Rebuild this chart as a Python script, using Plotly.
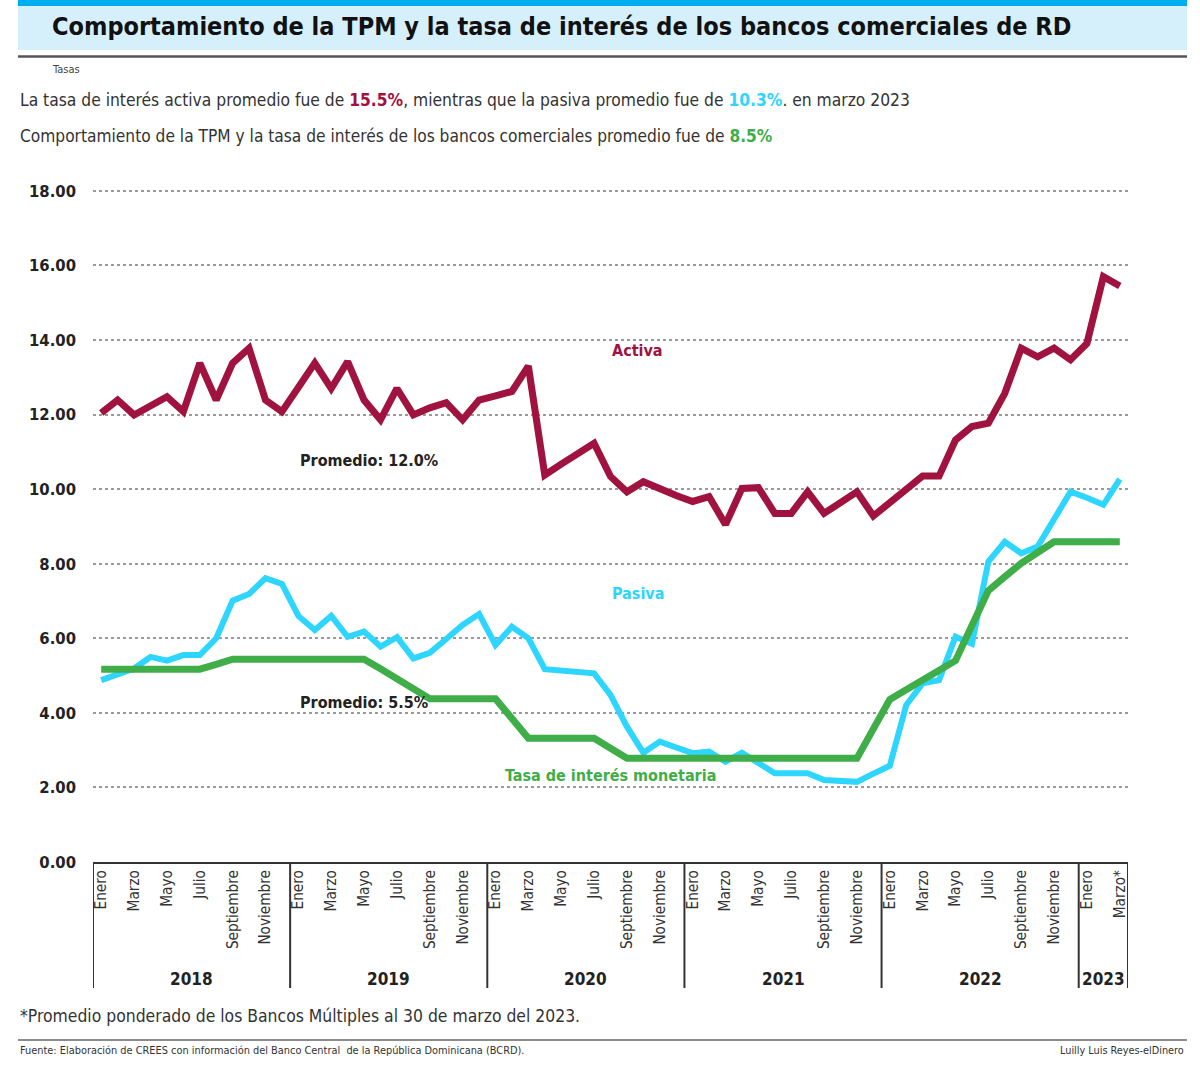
import plotly.graph_objects as go

# ---------------- data ----------------
month_names = ["Enero", "Febrero", "Marzo", "Abril", "Mayo", "Junio", "Julio",
               "Agosto", "Septiembre", "Octubre", "Noviembre", "Diciembre"]
years = ["2018", "2019", "2020", "2021", "2022", "2023"]
months_per_year = [12, 12, 12, 12, 12, 3]

activa = [12.04, 12.39, 11.99, 12.25, 12.48, 12.08, 13.38, 12.39, 13.38, 13.78, 12.39, 12.08,
          12.70, 13.38, 12.70, 13.42, 12.39, 11.86, 12.70, 11.99, 12.18, 12.32, 11.86, 12.39,
          12.50, 12.62, 13.30, 10.38, 10.67, 10.95, 11.23, 10.34, 9.93, 10.20, 9.99, 9.83,
          9.67, 9.80, 9.05, 10.02, 10.04, 9.35, 9.35, 9.93, 9.35, 9.65, 9.93, 9.28,
          9.65, 10.00, 10.35, 10.35, 11.32, 11.68, 11.77, 12.57, 13.78, 13.55, 13.78, 13.47,
          13.91, 15.70, 15.45]

pasiva = [4.88, 5.03, 5.19, 5.50, 5.40, 5.55, 5.55, 6.00, 7.01, 7.19, 7.61, 7.46,
          6.60, 6.22, 6.60, 6.04, 6.18, 5.78, 6.03, 5.46, 5.61, 5.98, 6.36, 6.65,
          5.82, 6.31, 6.00, 5.17, 5.13, 5.06, 5.06, 4.48, 3.63, 2.93, 3.23, 3.07,
          2.92, 2.96, 2.69, 2.93, 2.65, 2.38, 2.38, 2.38, 2.20, 2.18, 2.15, 2.37,
          2.58, 4.21, 4.79, 4.88, 6.04, 5.85, 8.06, 8.59, 8.28, 8.46, 9.17, 9.93,
          9.77, 9.58, 10.27]

tpm = [5.17, 5.17, 5.17, 5.17, 5.17, 5.17, 5.17, 5.30, 5.44, 5.44, 5.44, 5.44,
       5.44, 5.44, 5.44, 5.44, 5.44, 5.18, 4.91, 4.65, 4.38, 4.38, 4.38, 4.38,
       4.38, 3.85, 3.32, 3.32, 3.32, 3.32, 3.32, 3.05, 2.78, 2.78, 2.78, 2.78,
       2.78, 2.78, 2.78, 2.78, 2.78, 2.78, 2.78, 2.78, 2.78, 2.78, 2.78, 3.57,
       4.36, 4.62, 4.88, 5.14, 5.40, 6.34, 7.28, 7.65, 8.01, 8.30, 8.59, 8.59,
       8.59, 8.59, 8.59]

y_ticks = [0, 2, 4, 6, 8, 10, 12, 14, 16, 18]

# month labels (every other month)
labels = []
for yi, n in enumerate(months_per_year):
    for m in range(n):
        labels.append(month_names[m])
x_idx = list(range(len(labels)))
tick_vals = [i for i in x_idx if i % 2 == 0]
tick_text = [labels[i] for i in tick_vals]
tick_text[-1] = "Marzo*"

# ---------------- style ----------------
C_ACT = "#A0123F"
C_PAS = "#2ED6FF"
C_TPM = "#3FAE48"
FONT = "Liberation Sans Narrow, DejaVu Sans Condensed, Arial Narrow, sans-serif"

W, H = 1200, 1071
L, R, T, B = 93, 72, 189, 209
PW, PH = W - L - R, H - T - B


def px(p):
    return (p - L) / PW


def py(p):
    return (H - B - p) / PH


fig = go.Figure()
fig.add_trace(go.Scatter(x=x_idx, y=pasiva, mode="lines", name="Pasiva",
                         line=dict(color=C_PAS, width=6), hoverinfo="skip"))
fig.add_trace(go.Scatter(x=x_idx, y=tpm, mode="lines", name="Tasa de interés monetaria",
                         line=dict(color=C_TPM, width=7), hoverinfo="skip"))
fig.add_trace(go.Scatter(x=x_idx, y=activa, mode="lines", name="Activa",
                         line=dict(color=C_ACT, width=7), hoverinfo="skip"))

shapes = []
# top bars
shapes.append(dict(type="rect", xref="paper", yref="paper", x0=px(18), x1=px(1187),
                   y0=py(6), y1=py(0), fillcolor="#00AEEF", line=dict(width=0), layer="below"))
shapes.append(dict(type="rect", xref="paper", yref="paper", x0=px(18), x1=px(1187),
                   y0=py(50), y1=py(6), fillcolor="#D5EFFB", line=dict(width=0), layer="below"))
shapes.append(dict(type="line", xref="paper", yref="paper", x0=px(18), x1=px(1187),
                   y0=py(56.5), y1=py(56.5), line=dict(color="#555555", width=2.5)))
# footer line
shapes.append(dict(type="line", xref="paper", yref="paper", x0=px(18), x1=px(1187),
                   y0=py(1040), y1=py(1040), line=dict(color="#666666", width=1.5)))
# year dividers
bounds = [-0.5]
for n in months_per_year:
    bounds.append(bounds[-1] + n)
for b in bounds:
    shapes.append(dict(type="line", xref="x", yref="paper", x0=b, x1=b,
                       y0=0, y1=py(988), line=dict(color="#333333", width=2)))

annotations = []
# title and texts
annotations.append(dict(xref="paper", yref="paper", x=px(50), y=py(27), xanchor="left", yanchor="middle",
                        showarrow=False,
                        text="<b>Comportamiento de la TPM y la tasa de interés de los bancos comerciales de RD</b>",
                        font=dict(family=FONT, size=25, color="#111111")))
annotations.append(dict(xref="paper", yref="paper", x=px(50), y=py(70), xanchor="left", yanchor="middle",
                        showarrow=False, text="Tasas", font=dict(family=FONT, size=11, color="#444444")))
annotations.append(dict(xref="paper", yref="paper", x=px(18), y=py(100), xanchor="left", yanchor="middle",
                        showarrow=False,
                        text=("La tasa de interés activa promedio fue de "
                              f"<b><span style='color:{C_ACT}'>15.5%</span></b>, mientras que la pasiva promedio fue de "
                              f"<b><span style='color:{C_PAS}'>10.3%</span></b>. en marzo 2023"),
                        font=dict(family=FONT, size=17.3, color="#333333")))
annotations.append(dict(xref="paper", yref="paper", x=px(18), y=py(136), xanchor="left", yanchor="middle",
                        showarrow=False,
                        text=("Comportamiento de la TPM y la tasa de interés de los bancos comerciales promedio fue de "
                              f"<b><span style='color:{C_TPM}'>8.5%</span></b>"),
                        font=dict(family=FONT, size=17.2, color="#333333")))
annotations.append(dict(xref="paper", yref="paper", x=px(18), y=py(1016), xanchor="left", yanchor="middle",
                        showarrow=False,
                        text="*Promedio ponderado de los Bancos Múltiples al 30 de marzo del 2023.",
                        font=dict(family=FONT, size=17.4, color="#333333")))
annotations.append(dict(xref="paper", yref="paper", x=px(18), y=py(1050), xanchor="left", yanchor="middle",
                        showarrow=False,
                        text="Fuente: Elaboración de CREES con información del Banco Central  de la República Dominicana (BCRD).",
                        font=dict(family=FONT, size=10.9, color="#333333")))
annotations.append(dict(xref="paper", yref="paper", x=px(1186), y=py(1050), xanchor="right", yanchor="middle",
                        showarrow=False, text="Luilly Luis Reyes-elDinero",
                        font=dict(family=FONT, size=10.8, color="#333333")))
# year labels
for yi, yr in enumerate(years):
    annotations.append(dict(xref="x", yref="paper", x=(bounds[yi] + bounds[yi + 1]) / 2, y=py(979),
                            xanchor="center", yanchor="middle", showarrow=False, text=f"<b>{yr}</b>",
                            font=dict(family=FONT, size=17, color="#222222")))
# series labels
annotations.append(dict(x=32.67, y=13.71, showarrow=False, text="<b>Activa</b>",
                        font=dict(family=FONT, size=16, color=C_ACT)))
annotations.append(dict(x=32.67, y=7.19, showarrow=False, text="<b>Pasiva</b>",
                        font=dict(family=FONT, size=16, color=C_PAS)))
annotations.append(dict(x=31.0, y=2.31, showarrow=False, text="<b>Tasa de interés monetaria</b>",
                        font=dict(family=FONT, size=16, color=C_TPM)))
annotations.append(dict(x=16.3, y=10.78, showarrow=False, text="<b>Promedio: 12.0%</b>",
                        font=dict(family=FONT, size=16, color="#222222")))
annotations.append(dict(x=16.0, y=4.27, showarrow=False, text="<b>Promedio: 5.5%</b>",
                        font=dict(family=FONT, size=16, color="#222222")))

fig.update_layout(
    width=W, height=H,
    margin=dict(l=L, r=R, t=T, b=B, pad=0),
    paper_bgcolor="white", plot_bgcolor="white",
    showlegend=False,
    shapes=shapes, annotations=annotations,
    xaxis=dict(range=[-0.5, len(labels) - 0.5], tickmode="array", tickvals=tick_vals, ticktext=tick_text,
               tickangle=-90, tickfont=dict(family=FONT, size=15.2, color="#333333"),
               showgrid=False, zeroline=False, showline=True, linecolor="#333333", linewidth=2,
               ticks="", fixedrange=True),
    yaxis=dict(range=[0, 18.05], tickmode="array", tickvals=y_ticks, tickformat=".2f",
               tickfont=dict(family=FONT, size=16.5, color="#222222", weight="bold"),
               showgrid=True, gridcolor="#9a9a9a", griddash="dot", gridwidth=1.5,
               zeroline=False, showline=False, ticks="", ticklabelstandoff=16, fixedrange=True),
)

fig.write_html("out.html", config={"displayModeBar": False},
               post_script="document.body.style.margin='0px';")
